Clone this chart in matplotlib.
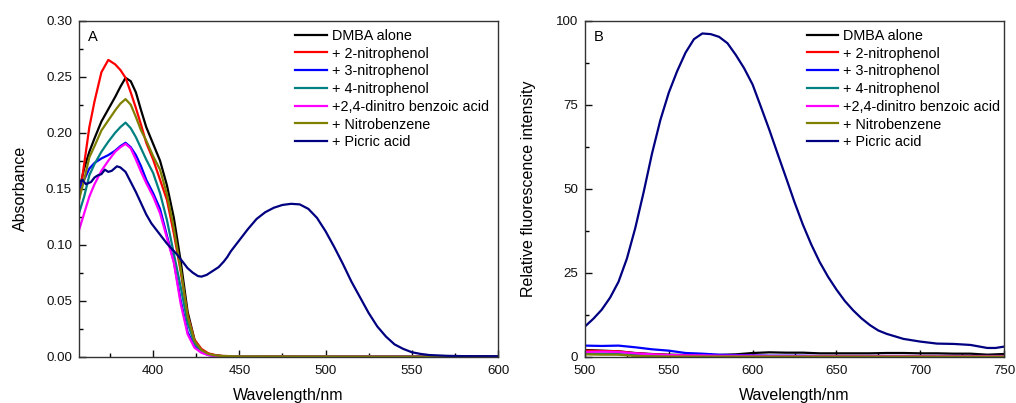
import numpy as np
import matplotlib
matplotlib.use("Agg")
import matplotlib.pyplot as plt
from matplotlib.ticker import MultipleLocator

plt.rcParams['font.family'] = ['Liberation Sans', 'DejaVu Sans']

labels = ["DMBA alone", "+ 2-nitrophenol", "+ 3-nitrophenol", "+ 4-nitrophenol",
          "+2,4-dinitro benzoic acid", "+ Nitrobenzene", "+ Picric acid"]
colors = ["#000000", "#ff0000", "#0000ff", "#008080", "#ff00ff", "#808000", "#000080"]

# --- UV-vis absorption (panel A) ---
uv_wl = [357, 360, 363, 366, 370, 374, 378, 381, 384, 387, 390, 393, 396, 400,
         404, 408, 412, 416, 420, 424, 428, 432, 436, 440, 450, 600]
abs_dmba = [0.148, 0.168, 0.183, 0.195, 0.210, 0.221, 0.232, 0.241, 0.249, 0.246, 0.236,
            0.220, 0.205, 0.190, 0.175, 0.153, 0.124, 0.085, 0.040, 0.015, 0.006, 0.0025,
            0.0012, 0.0006, 0.0003, 0.0]
abs_2np = [0.140, 0.172, 0.205, 0.228, 0.254, 0.265, 0.261, 0.256, 0.249, 0.236, 0.222,
           0.207, 0.191, 0.176, 0.158, 0.140, 0.110, 0.076, 0.037, 0.015, 0.007, 0.003,
           0.0015, 0.0007, 0.0003, 0.0]
abs_3np = [0.150, 0.158, 0.168, 0.173, 0.177, 0.180, 0.184, 0.188, 0.191, 0.187, 0.180,
           0.170, 0.158, 0.146, 0.132, 0.108, 0.085, 0.050, 0.022, 0.009, 0.004, 0.0015,
           0.0007, 0.0003, 0.0001, 0.0]
abs_4np = [0.128, 0.143, 0.162, 0.172, 0.183, 0.192, 0.200, 0.205, 0.209, 0.204, 0.196,
           0.186, 0.176, 0.164, 0.146, 0.122, 0.092, 0.062, 0.030, 0.012, 0.005, 0.002,
           0.0009, 0.0004, 0.0002, 0.0]
abs_dnba = [0.113, 0.128, 0.143, 0.154, 0.166, 0.175, 0.183, 0.187, 0.190, 0.186, 0.176,
            0.165, 0.155, 0.143, 0.128, 0.106, 0.084, 0.047, 0.020, 0.008, 0.0035, 0.0015,
            0.0007, 0.0003, 0.0001, 0.0]
abs_nb = [0.140, 0.158, 0.178, 0.188, 0.202, 0.211, 0.220, 0.226, 0.230, 0.225, 0.214,
          0.202, 0.193, 0.179, 0.167, 0.145, 0.115, 0.078, 0.036, 0.014, 0.006, 0.0025,
          0.0012, 0.0006, 0.0003, 0.0]

pa_wl = [357, 359, 361, 364, 366, 368, 370, 372, 374, 376, 379, 381, 384, 387, 390, 393,
         396, 399, 402, 405, 408, 411, 414, 417, 420, 423, 426, 428, 431, 434, 438, 441,
         443, 445, 450, 455, 460, 465, 470, 475, 480, 485, 490, 495, 500, 505, 510, 515,
         520, 525, 530, 535, 540, 545, 550, 555, 560, 570, 580, 600]
abs_pa = [0.155, 0.158, 0.154, 0.156, 0.160, 0.162, 0.163, 0.167, 0.165, 0.166, 0.170,
          0.169, 0.165, 0.156, 0.147, 0.137, 0.127, 0.119, 0.113, 0.107, 0.101, 0.096,
          0.091, 0.085, 0.079, 0.075, 0.072, 0.0715, 0.073, 0.076, 0.080, 0.085, 0.089,
          0.094, 0.104, 0.114, 0.123, 0.129, 0.133, 0.1355, 0.1365, 0.136, 0.132, 0.124,
          0.112, 0.098, 0.083, 0.067, 0.053, 0.039, 0.027, 0.018, 0.011, 0.007, 0.004,
          0.0025, 0.0015, 0.0008, 0.0005, 0.0004]

# --- fluorescence emission (panel B) ---
fl_wl = [500, 510, 520, 530, 540, 550, 560, 570, 580, 590, 600, 610, 620, 630, 640, 650,
         660, 670, 680, 690, 700, 710, 720, 730, 740, 750]
fl_dmba = [2.0, 1.8, 1.6, 1.1, 0.8, 0.6, 0.5, 0.5, 0.5, 0.7, 1.1, 1.3, 1.2, 1.2, 1.0, 1.0,
           1.0, 1.0, 1.1, 1.1, 1.0, 1.0, 0.9, 0.9, 0.6, 0.8]
fl_2np = [1.8, 1.7, 1.6, 1.0, 0.7, 0.5, 0.4, 0.3, 0.3, 0.2, 0.2, 0.1, 0.1, 0.1, 0.1, 0.1,
          0.1, 0.1, 0.1, 0.1, 0.1, 0.1, 0.1, 0.1, 0.1, 0.1]
fl_3np = [3.3, 3.2, 3.3, 2.8, 2.2, 1.8, 1.1, 0.9, 0.6, 0.5, 0.4, 0.3, 0.3, 0.3, 0.2, 0.2,
          0.2, 0.2, 0.2, 0.2, 0.2, 0.2, 0.2, 0.2, 0.2, 0.2]
fl_4np = [1.0, 0.9, 0.8, 0.5, 0.3, 0.2, 0.1, 0.1, 0.1, 0.1, 0.1, 0.1, 0.1, 0.1, 0.1, 0.1,
          0.1, 0.1, 0.1, 0.1, 0.1, 0.1, 0.1, 0.1, 0.1, 0.1]
fl_dnba = [1.4, 1.5, 1.4, 1.0, 0.7, 0.5, 0.4, 0.4, 0.3, 0.3, 0.3, 0.2, 0.2, 0.2, 0.2, 0.2,
           0.2, 0.2, 0.2, 0.2, 0.2, 0.2, 0.2, 0.2, 0.2, 0.2]
fl_nb = [0.7, 0.6, 0.6, 0.2, 0.1, 0.05, 0.05, 0.05, 0.05, 0.05, 0.05, 0.05, 0.05, 0.05,
         0.05, 0.05, 0.05, 0.05, 0.05, 0.05, 0.05, 0.05, 0.05, 0.05, 0.05, 0.05]

pa_fl_wl = [500, 505, 510, 515, 520, 525, 530, 535, 540, 545, 550, 555, 560, 565, 570, 575,
            580, 585, 590, 595, 600, 605, 610, 615, 620, 625, 630, 635, 640, 645, 650, 655,
            660, 665, 670, 675, 680, 690, 700, 710, 720, 730, 740, 745, 750]
fl_pa = [9.0, 11.3, 14.0, 17.6, 22.3, 29.2, 38.3, 49.0, 60.5, 70.5, 78.6, 85.0, 90.5, 94.5,
         96.2, 96.0, 95.2, 93.3, 89.8, 85.8, 81.0, 74.3, 67.5, 60.3, 53.2, 46.0, 39.3, 33.4,
         28.2, 23.8, 20.0, 16.6, 13.8, 11.4, 9.4, 7.8, 6.8, 5.3, 4.5, 3.9, 3.8, 3.5, 2.6,
         2.6, 3.0]

fig = plt.figure(figsize=(10.16, 4.03), dpi=100)
ax1 = fig.add_axes([79 / 1016, 1 - 356.7 / 403, 419 / 1016, 336 / 403])
ax2 = fig.add_axes([585 / 1016, 1 - 356.7 / 403, 419 / 1016, 336 / 403])

uv_series = [(uv_wl, abs_dmba), (uv_wl, abs_2np), (uv_wl, abs_3np), (uv_wl, abs_4np),
             (uv_wl, abs_dnba), (uv_wl, abs_nb), (pa_wl, abs_pa)]
fl_series = [(fl_wl, fl_dmba), (fl_wl, fl_2np), (fl_wl, fl_3np), (fl_wl, fl_4np),
             (fl_wl, fl_dnba), (fl_wl, fl_nb), (pa_fl_wl, fl_pa)]

for (x, y), c, lab in zip(uv_series, colors, labels):
    ax1.plot(x, y, color=c, lw=1.6, label=lab, solid_joinstyle='round')
for (x, y), c, lab in zip(fl_series, colors, labels):
    ax2.plot(x, y, color=c, lw=1.6, label=lab, solid_joinstyle='round')

ax1.set_xlim(357, 600)
ax1.set_ylim(0, 0.30)
ax1.xaxis.set_major_locator(MultipleLocator(50))
ax1.xaxis.set_minor_locator(MultipleLocator(25))
ax1.yaxis.set_major_locator(MultipleLocator(0.05))
ax1.yaxis.set_minor_locator(MultipleLocator(0.025))
ax1.yaxis.set_major_formatter(plt.FormatStrFormatter('%.2f'))
ax1.set_ylabel("Absorbance", fontsize=11.5)
ax1.yaxis.set_label_coords(-0.122, 0.5)

ax2.set_xlim(500, 750)
ax2.set_ylim(0, 100)
ax2.xaxis.set_major_locator(MultipleLocator(50))
ax2.xaxis.set_minor_locator(MultipleLocator(25))
ax2.yaxis.set_major_locator(MultipleLocator(25))
ax2.yaxis.set_minor_locator(MultipleLocator(12.5))
ax2.set_ylabel("Relative fluorescence intensity", fontsize=11.5)
ax2.yaxis.set_label_coords(-0.117, 0.5)

for ax, letter, lx in [(ax1, "A", 0.5155), (ax2, "B", 0.529)]:
    ax.set_xlabel("Wavelength/nm", fontsize=11.5)
    ax.xaxis.set_label_coords(0.5, -0.093)
    ax.tick_params(which='major', direction='in', length=5, width=1, labelsize=9.6,
                   colors='#111111', pad=5)
    ax.tick_params(which='minor', direction='in', length=3, width=1)
    ax.tick_params(axis='x', which='major', pad=6)
    for s in ax.spines.values():
        s.set_linewidth(1.0)
        s.set_color('#333333')
    ax.text(0.022, 0.952, letter, transform=ax.transAxes, fontsize=10.5, va='center')
    ax.legend(loc='upper left', bbox_to_anchor=(lx, 0.976), frameon=False, fontsize=10.4,
              handlelength=2.2, handletextpad=0.35, labelspacing=0.26, borderpad=0,
              borderaxespad=0)

fig.savefig("out.png", dpi=100)
